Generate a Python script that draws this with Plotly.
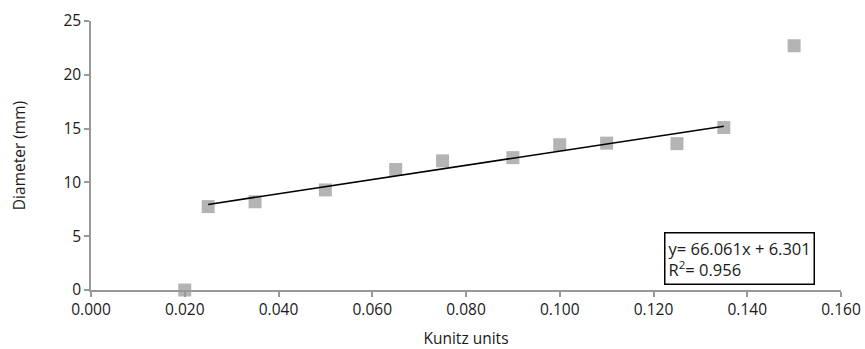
import plotly.graph_objects as go
import numpy as np

kunitz = [0.020, 0.025, 0.035, 0.050, 0.065, 0.075, 0.090, 0.100, 0.110, 0.125, 0.135, 0.150]
diameter = [0.0, 7.75, 8.2, 9.3, 11.2, 12.0, 12.3, 13.5, 13.65, 13.6, 15.1, 22.7]
slope, intercept, r2 = 66.061, 6.301, 0.956
fit_range = [0.025, 0.135]
x_ticks = [0.0, 0.02, 0.04, 0.06, 0.08, 0.10, 0.12, 0.14, 0.16]
y_ticks = [0, 5, 10, 15, 20, 25]

fx = np.array(fit_range)
fy = slope * fx + intercept

fig = go.Figure()
fig.add_trace(go.Scatter(x=kunitz, y=diameter, mode="markers",
                         marker=dict(symbol="square", size=13, color="#b4b4b4"),
                         showlegend=False, cliponaxis=False))
fig.add_trace(go.Scatter(x=fx, y=fy, mode="lines",
                         line=dict(color="black", width=1.6), showlegend=False))

font = dict(family="Open Sans, Noto Sans, sans-serif", size=15.5, color="#1a1a1a")
axis_common = dict(showline=True, linecolor="#999", linewidth=1.5, ticks="outside",
                   tickcolor="#999", ticklen=5, tickwidth=1.5, showgrid=False,
                   zeroline=False, tickfont=font, automargin=False)
fig.update_xaxes(range=[0, 0.16], tickvals=x_ticks,
                 ticktext=[f"{v:.3f}" for v in x_ticks],
                 title=dict(text="Kunitz units", font=font, standoff=21), **axis_common)
fig.update_yaxes(range=[0, 25], tickvals=y_ticks,
                 title=dict(text="Diameter (mm)", font=font, standoff=34), **axis_common)

fig.add_annotation(x=0.1222, y=5.4, xref="x", yref="y", xanchor="left", yanchor="top",
                   text=f"y= {slope:.3f}x + {intercept:.3f}<br>R<sup>2</sup>= {r2:.3f}",
                   align="left", showarrow=False,
                   font=dict(family=font["family"], size=16.5, color="#1a1a1a"),
                   bordercolor="black", borderwidth=1.5, borderpad=3, bgcolor="white")

fig.update_layout(width=865, height=349, margin=dict(l=91, r=24, t=21, b=59),
                  plot_bgcolor="white", paper_bgcolor="white")
fig.write_html("out.html")
